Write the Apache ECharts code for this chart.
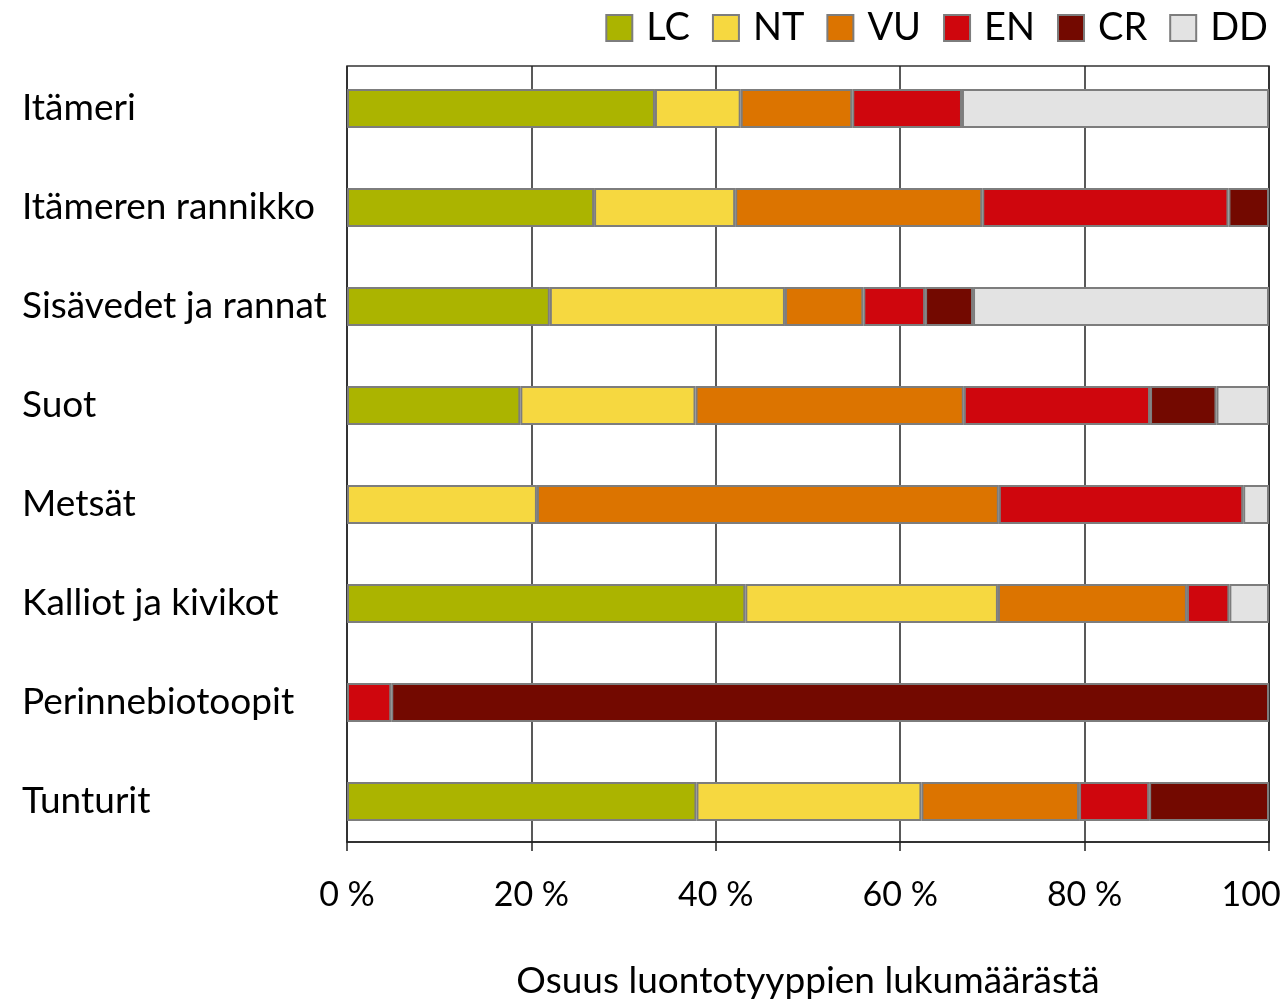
<!DOCTYPE html>
<html><head><meta charset="utf-8">
<script src="https://cdn.jsdelivr.net/npm/echarts@6/dist/echarts.min.js"></script>
<style>html,body{margin:0;padding:0;background:#fff}#c{width:1284px;height:1000px}</style>
</head><body><div id="c"></div>
<script>
const categories = ['Itämeri','Itämeren rannikko','Sisävedet ja rannat','Suot','Metsät','Kalliot ja kivikot','Perinnebiotoopit','Tunturit'];
const LC = [33.4, 26.8, 22.0, 18.8, 0, 43.2, 0, 37.9];
const NT = [9.3, 15.3, 25.5, 19.0, 20.6, 27.4, 0, 24.4];
const VU = [12.1, 26.8, 8.5, 29.1, 50.1, 20.5, 0, 17.1];
const EN = [11.9, 26.7, 6.7, 20.2, 26.5, 4.6, 4.8, 7.6];
const CR = [0, 4.4, 5.2, 7.2, 0, 0, 95.2, 13.0];
const DD = [33.3, 0, 32.1, 5.7, 2.8, 4.3, 0, 0];
const seriesNames = ['LC','NT','VU','EN','CR','DD'];
const seriesValues = [LC, NT, VU, EN, CR, DD];
const colors = ['#abb400','#f6d840','#dc7400','#cf060d','#730900','#e3e3e3'];
const xTickMax = 100, xTickStep = 20;
const xTitle = 'Osuus luontotyyppien lukumäärästä';

const FONT = 'Lato';
const chart = echarts.init(document.getElementById('c'), null, {renderer:'canvas'});
chart.setOption({
  animation: false,
  backgroundColor: '#fff',
  textStyle: {fontFamily: FONT, color: '#000'},
  legend: {
    top: 4, right: 11, itemWidth: 26, itemHeight: 26, itemGap: 22,
    icon: 'rect',
    textStyle: {fontSize: 38, color: '#000', fontFamily: FONT, padding: [0,0,0,9]},
    data: seriesNames
  },
  grid: [
    {left: 347, right: 15, top: 59, height: 792, outerBoundsMode: 'none', containLabel: false},
    {left: 347, right: 15, top: 66, height: 776, show: true, borderColor: '#333', borderWidth: 1.5,
     backgroundColor: 'transparent', outerBoundsMode: 'none', containLabel: false}
  ],
  xAxis: [
    {gridIndex: 0, type: 'value', min: 0, max: xTickMax, show: false},
    {gridIndex: 1, type: 'value', min: 0, max: xTickMax, interval: xTickStep,
     axisLine: {show: true, lineStyle: {color: '#222', width: 1.5}},
     axisTick: {show: true, length: 9, lineStyle: {color: '#222', width: 1.5}},
     splitLine: {show: true, lineStyle: {color: '#222', width: 1.5}},
     axisLabel: {formatter: '{value} %', fontSize: 34, color: '#000', margin: 36, fontFamily: FONT},
     name: xTitle, nameLocation: 'middle', nameGap: 121,
     nameTextStyle: {fontSize: 37, color: '#000', fontFamily: FONT}}
  ],
  yAxis: [
    {gridIndex: 0, type: 'category', data: categories, inverse: true,
     axisLine: {show: false}, axisTick: {show: false}, splitLine: {show: false},
     axisLabel: {align: 'left', margin: 325, fontSize: 37, color: '#000', fontFamily: FONT}},
    {gridIndex: 1, type: 'value', min: 0, max: 1, show: false}
  ],
  series: seriesNames.map((n, i) => ({
    name: n, type: 'bar', stack: 'total', xAxisIndex: 0, yAxisIndex: 0,
    barWidth: 39,
    itemStyle: {color: colors[i], borderColor: '#7d7d7d', borderWidth: 2},
    data: seriesValues[i].map(v => v === 0 ? null : v)
  }))
});
</script></body></html>
